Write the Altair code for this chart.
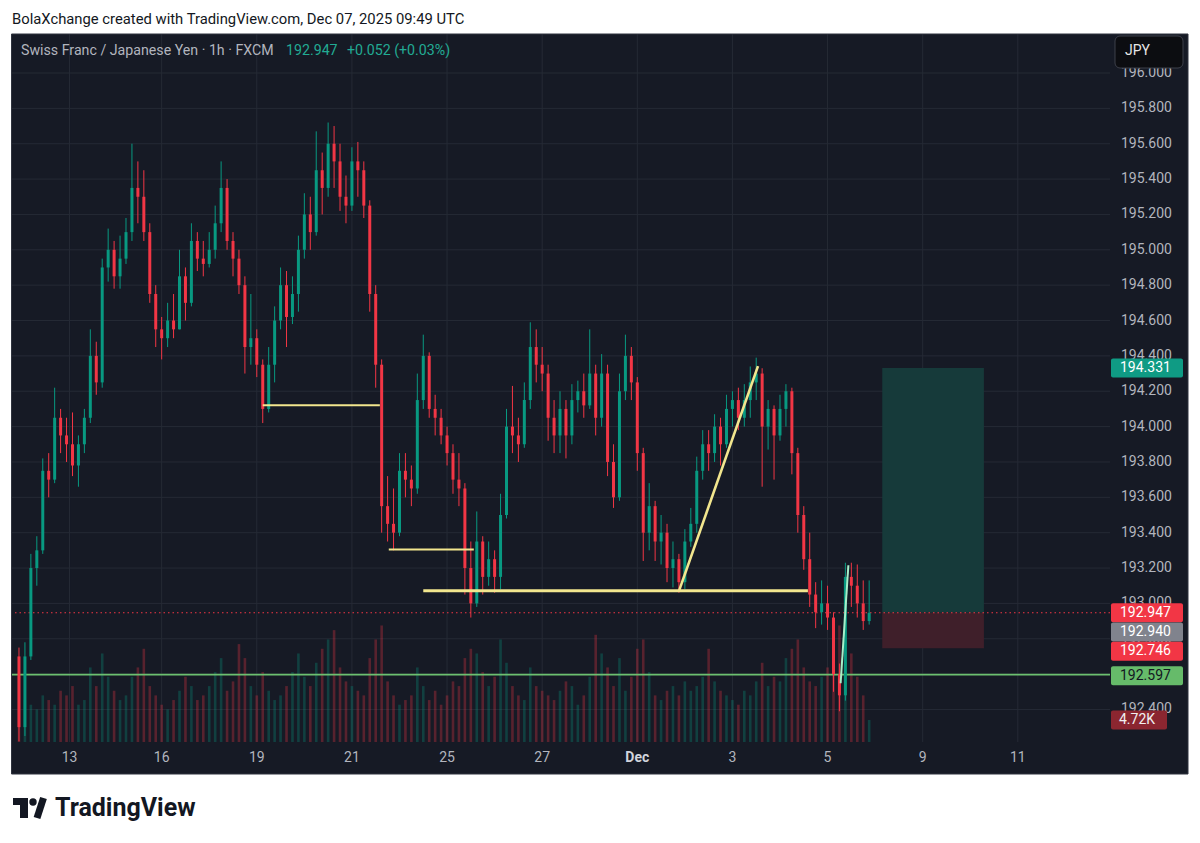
import altair as alt
import pandas as pd

# ---------------- data (3-hour candles) ----------------
first_open = 192.70
closes = [
    192.30, 192.70, 193.20, 193.30, 193.75, 193.70,
    194.05, 193.95, 193.90, 193.78, 193.90, 194.05,
    194.40, 194.25, 194.90, 195.00, 194.85, 194.95,
    195.10, 195.35, 195.30, 195.10, 194.75, 194.55,
    194.50, 194.60, 194.55, 194.85, 194.70, 195.05,
    194.95, 194.92, 195.00, 195.15, 195.35, 195.05,
    194.95, 194.80, 194.45, 194.50, 194.35, 194.10,
    194.35, 194.60, 194.80, 194.62, 194.75, 195.00,
    195.20, 195.10, 195.45, 195.35, 195.60, 195.50,
    195.30, 195.25, 195.50, 195.45, 195.25, 194.75,
    194.35, 193.55, 193.45, 193.40, 193.75, 193.70,
    193.65, 194.15, 194.40, 194.10, 194.05, 193.95,
    193.85, 193.70, 193.65, 193.20, 193.00, 193.35,
    193.15, 193.25, 193.15, 193.50, 194.00, 193.95,
    193.90, 194.15, 194.45, 194.35, 194.30, 194.05,
    193.95, 194.10, 193.95, 194.15, 194.20, 194.12,
    194.30, 194.05, 194.30, 193.80, 193.60, 194.20,
    194.40, 194.25, 193.85, 193.40, 193.55, 193.35,
    193.40, 193.20, 193.25, 193.12, 193.35, 193.45,
    193.75, 193.90, 193.85, 194.00, 193.90, 194.10,
    194.15, 194.05, 194.15, 194.25, 194.30, 194.00,
    194.10, 193.95, 194.10, 194.20, 193.85, 193.50,
    193.25, 193.05, 192.95, 193.00, 192.92, 192.60,
    192.48, 193.15, 193.10, 193.00, 192.90, 192.947,
]
highs = [
    192.75, 192.78, 193.28, 193.38, 193.82, 193.85,
    194.22, 194.10, 194.05, 194.08, 193.95, 194.10,
    194.55, 194.48, 194.95, 195.12, 195.05, 195.08,
    195.18, 195.60, 195.50, 195.45, 195.15, 194.80,
    194.62, 194.70, 194.75, 195.00, 194.90, 195.15,
    195.10, 195.05, 195.10, 195.25, 195.50, 195.40,
    195.10, 195.00, 194.85, 194.75, 194.55, 194.38,
    194.45, 194.68, 194.90, 194.88, 194.85, 195.08,
    195.32, 195.30, 195.67, 195.55, 195.72, 195.70,
    195.60, 195.42, 195.58, 195.61, 195.50, 195.28,
    194.80, 194.38, 193.72, 193.65, 193.85, 193.85,
    193.78, 194.30, 194.52, 194.42, 194.18, 194.10,
    194.00, 193.90, 193.85, 193.68, 193.35, 193.52,
    193.38, 193.35, 193.30, 193.62, 194.10, 194.23,
    194.05, 194.25, 194.59, 194.55, 194.45, 194.35,
    194.15, 194.20, 194.15, 194.24, 194.26, 194.30,
    194.55, 194.35, 194.41, 194.35, 193.90, 194.30,
    194.52, 194.45, 194.28, 193.88, 193.68, 193.58,
    193.50, 193.45, 193.35, 193.28, 193.42, 193.54,
    193.83, 193.98, 193.98, 194.07, 194.05, 194.18,
    194.20, 194.22, 194.24, 194.34, 194.39, 194.33,
    194.15, 194.12, 194.18, 194.24, 194.22, 193.88,
    193.55, 193.40, 193.12, 193.13, 193.10, 192.95,
    192.66, 193.23, 193.23, 193.22, 193.13, 193.13,
]
lows = [
    192.22, 192.25, 192.68, 193.10, 193.28, 193.60,
    193.68, 193.85, 193.80, 193.72, 193.66, 193.85,
    194.02, 194.18, 194.22, 194.82, 194.78, 194.78,
    194.92, 195.05, 195.15, 195.05, 194.70, 194.45,
    194.38, 194.45, 194.50, 194.55, 194.60, 194.68,
    194.88, 194.85, 194.90, 194.95, 195.10, 195.00,
    194.85, 194.75, 194.30, 194.35, 194.28, 194.02,
    194.08, 194.25, 194.55, 194.45, 194.58, 194.65,
    194.95, 195.00, 195.08, 195.20, 195.30, 195.35,
    195.22, 195.15, 195.22, 195.30, 195.18, 194.65,
    194.22, 193.40, 193.35, 193.30, 193.38, 193.60,
    193.55, 193.62, 194.10, 194.05, 193.95, 193.90,
    193.78, 193.62, 193.55, 193.05, 192.92, 192.98,
    193.05, 193.10, 193.06, 193.08, 193.48, 193.85,
    193.80, 193.88, 194.10, 194.25, 194.20, 193.92,
    193.85, 193.85, 193.82, 193.90, 194.08, 194.05,
    194.10, 193.95, 194.00, 193.72, 193.54, 193.58,
    194.15, 194.15, 193.75, 193.24, 193.30, 193.24,
    193.22, 193.12, 193.09, 193.06, 193.08, 193.32,
    193.40, 193.70, 193.75, 193.80, 193.78, 193.88,
    194.00, 193.98, 194.00, 194.05, 194.15, 193.66,
    193.87, 193.70, 193.92, 194.00, 193.73, 193.40,
    193.19, 192.98, 192.86, 192.88, 192.85, 192.50,
    192.39, 192.45, 192.98, 192.92, 192.85, 192.88,
]
volumes_k = [
    14, 9, 8, 7, 10, 9,
    8, 11, 10, 12, 8, 9,
    16, 12, 19, 14, 11, 9,
    10, 14, 16, 20, 12, 10,
    8, 7, 9, 11, 14, 12,
    9, 10, 12, 15, 18, 11,
    13, 21, 18, 12, 10, 15,
    11, 9, 10, 12, 15, 19,
    14, 12, 17, 20, 22, 24,
    16, 13, 12, 11, 10, 18,
    22, 25, 13, 10, 8, 9,
    10, 16, 12, 9, 11, 8,
    10, 13, 12, 18, 20, 19,
    15, 12, 14, 22, 17, 12,
    10, 9, 16, 12, 11, 10,
    9, 11, 13, 12, 8, 10,
    14, 23, 19, 16, 12, 18,
    11, 14, 20, 22, 15, 10,
    9, 11, 12, 10, 13, 11,
    12, 14, 20, 13, 11, 10,
    9, 8, 11, 10, 13, 17,
    12, 14, 13, 18, 20, 22,
    16, 13, 12, 14, 16, 21,
    25, 22, 19, 14, 10, 4.72,
]

x_tick_values = [8.5, 24, 40, 56, 72, 88, 120, 136, 152, 168]
x_tick_labels = ["13", "16", "19", "21", "25", "27", "3", "5", "9", "11"]
month_tick_value = 104
month_tick_label = "Dec"
price_ticks = [192.4, 192.6, 192.8, 193.0, 193.2, 193.4, 193.6, 193.8, 194.0,
               194.2, 194.4, 194.6, 194.8, 195.0, 195.2, 195.4, 195.6, 195.8, 196.0]

# drawings
hline_price = [194.121, 193.305]
hline_start = [41.0, 62.2]
hline_end = [60.7, 76.5]
support_price = 193.072
support_start = 68.0
support_end = 132.7
diag_i = [111.0, 124.3]
diag_p = [193.069, 194.342]
mint_i = [138.2, 139.5]
mint_p = [192.548, 193.216]

pos_start, pos_end = 145.2, 162.3
pos_target, pos_entry, pos_stop = 194.331, 192.947, 192.746
last_price = 192.947
green_level = 192.597

label_texts = ["194.331", "192.947", "192.940", "192.746", "192.597"]
label_values = [194.331, 192.947, 192.940, 192.746, 192.597]
last_volume_k = 4.72
last_volume_text = "4.72K"

# ---------------- styles / scale constants ----------------
BG = "#161a25"
GRID = "#252a35"
UP = "#089981"
DOWN = "#f23645"
AXIS_TXT = "#b2b5be"
YELLOW = "#f2e68e"
FONT = "Roboto"

Y_LO, Y_HI = 192.216, 196.2206
PX_PER_UNIT = 708 / (Y_HI - Y_LO)
VOL_PRICE_PER_K = (22 / last_volume_k) / PX_PER_UNIT   # volume pane: 4.72K -> 22 px

opens = [first_open] + closes[:-1]
bars = pd.DataFrame({
    "i": list(range(len(closes))),
    "open": opens, "high": highs, "low": lows, "close": closes, "vol": volumes_k,
})

XS = alt.Scale(domain=[-1 / 3, 182.6667], nice=False, zero=False)
YS = alt.Scale(domain=[Y_LO, Y_HI], nice=False, zero=False)


def X(f):
    return alt.X(f, type="quantitative", scale=XS, axis=None, title=None)


def Y(f):
    return alt.Y(f, type="quantitative", scale=YS, axis=None, title=None)


one = pd.DataFrame({"k": [0]})
up_down = alt.condition("datum.close >= datum.open", alt.value(UP), alt.value(DOWN))

# ---------------- grid + tick labels (drawn through the scales) ----------------
xt_df = pd.DataFrame({"t": x_tick_values, "l": x_tick_labels})
pt_df = pd.DataFrame({"p": price_ticks})
grid_x = alt.Chart(pd.DataFrame({"t": x_tick_values + [month_tick_value]})).mark_rule(
    color=GRID, strokeWidth=1).encode(x=X("t"))
grid_y = alt.Chart(pt_df).mark_rule(color=GRID, strokeWidth=1).encode(y=Y("p"))
date_lbl = alt.Chart(xt_df).mark_text(
    baseline="middle", font=FONT, fontSize=14, color=AXIS_TXT, clip=False).encode(
    x=X("t"), y=alt.value(724), text="l:N")
month_lbl = alt.Chart(pd.DataFrame({"m": [month_tick_value], "t": [month_tick_label]})).mark_text(
    baseline="middle", font=FONT, fontSize=14, fontWeight="bold", color="#d1d4dc", clip=False).encode(
    x=X("m"), y=alt.value(724), text="t:N")
price_lbl = alt.Chart(pt_df).mark_text(
    align="left", baseline="middle", font=FONT, fontSize=14, color=AXIS_TXT, clip=False).encode(
    x=alt.value(1109), y=Y("p"), text=alt.Text("p:Q", format=".3f"))

# ---------------- volume ----------------
vol_bars = alt.Chart(bars).transform_calculate(
    vbase=f"{Y_LO}", vtop=f"{Y_LO} + datum.vol * {VOL_PRICE_PER_K}"
).mark_bar(size=2.6, opacity=0.3).encode(
    x=X("i"), y=Y("vbase:Q"), y2=alt.Y2("vtop:Q"), color=up_down)

vol_df = pd.DataFrame({"v": [last_volume_k], "t": [last_volume_text]})
vol_box = alt.Chart(vol_df).transform_calculate(
    vp=f"{Y_LO} + datum.v * {VOL_PRICE_PER_K}"
).mark_rect(yOffset=-9.5, y2Offset=9.5, color="#8b2630", cornerRadius=2, clip=False).encode(
    x=alt.value(1099), x2=alt.value(1155), y=Y("vp:Q"), y2=alt.Y2("vp:Q"))
vol_txt = alt.Chart(vol_df).transform_calculate(
    vp=f"{Y_LO} + datum.v * {VOL_PRICE_PER_K}"
).mark_text(align="left", baseline="middle", font=FONT, fontSize=14, color="#f0f0f0", clip=False).encode(
    x=alt.value(1107), y=Y("vp:Q"), text="t:N")

# ---------------- price marks ----------------
pos_df = pd.DataFrame({"a": [pos_start], "b": [pos_end], "t": [pos_target],
                       "e": [pos_entry], "s": [pos_stop]})
pos_profit = alt.Chart(pos_df).mark_rect(color="#163a3a").encode(
    x=X("a"), x2=alt.X2("b"), y=Y("e"), y2=alt.Y2("t"))
pos_loss = alt.Chart(pos_df).mark_rect(color="#3f1f2a").encode(
    x=X("a"), x2=alt.X2("b"), y=Y("s"), y2=alt.Y2("e"))

green_rule = alt.Chart(pd.DataFrame({"p": [green_level]})).mark_rule(
    color="#6cc070", strokeWidth=1.6).encode(y=Y("p"))
last_rule = alt.Chart(pd.DataFrame({"p": [last_price]})).mark_rule(
    color=DOWN, strokeWidth=1, strokeDash=[1.5, 3]).encode(y=Y("p"))

wicks = alt.Chart(bars).mark_rule(strokeWidth=1).encode(
    x=X("i"), y=Y("low"), y2=alt.Y2("high"), color=up_down)
bodies = alt.Chart(bars).mark_bar(size=3).encode(
    x=X("i"), y=Y("open"), y2=alt.Y2("close"), color=up_down)

hl_df = pd.DataFrame({"p": hline_price, "a": hline_start, "b": hline_end})
hlines = alt.Chart(hl_df).mark_rule(color=YELLOW, strokeWidth=2).encode(
    x=X("a"), x2=alt.X2("b"), y=Y("p"))
sup = alt.Chart(pd.DataFrame({"p": [support_price], "a": [support_start], "b": [support_end]})).mark_rule(
    color=YELLOW, strokeWidth=3).encode(x=X("a"), x2=alt.X2("b"), y=Y("p"))
diag = alt.Chart(pd.DataFrame({"a": [diag_i[0]], "b": [diag_i[1]], "p": [diag_p[0]], "q": [diag_p[1]]})).mark_rule(
    color=YELLOW, strokeWidth=2.6).encode(x=X("a"), x2=alt.X2("b"), y=Y("p"), y2=alt.Y2("q"))
mint = alt.Chart(pd.DataFrame({"a": [mint_i[0]], "b": [mint_i[1]], "p": [mint_p[0]], "q": [mint_p[1]]})).mark_rule(
    color="#a8efc9", strokeWidth=2).encode(x=X("a"), x2=alt.X2("b"), y=Y("p"), y2=alt.Y2("q"))

lab_df = pd.DataFrame({"p": label_values, "t": label_texts})
label_fill = ["#0f9b84", DOWN, "#80838d", DOWN, "#66bb6a"]
label_ink = ["#ffffff", "#ffffff", "#ffffff", "#ffffff", "#131722"]
label_shift = [0, 0, 18, 3, 1]
label_layers = []
for k in range(len(label_texts)):
    d = lab_df.iloc[[k]]
    s = label_shift[k]
    label_layers.append(alt.Chart(d).mark_rect(
        color=label_fill[k], yOffset=s - 9.5, y2Offset=s + 9.5, cornerRadius=2, clip=False).encode(
        x=alt.value(1099), x2=alt.value(1171), y=Y("p"), y2=alt.Y2("p")))
    label_layers.append(alt.Chart(d).mark_text(
        align="left", baseline="middle", font=FONT, fontSize=14, color=label_ink[k], dy=s, clip=False).encode(
        x=alt.value(1108), y=Y("p"), text="t:N"))

jpy_box = alt.Chart(one).mark_rect(color="#0c0d11", stroke="#3d404a", strokeWidth=1,
                                   cornerRadius=5, clip=False).encode(
    x=alt.value(1103), x2=alt.value(1171), y=alt.value(2), y2=alt.value(34))
jpy_txt = alt.Chart(one).mark_text(text="JPY", align="left", baseline="middle", font=FONT,
                                   fontSize=14, color="#e6e6e6", clip=False).encode(
    x=alt.value(1113), y=alt.value(17))


def white(x0, x1, y0, y1):
    return alt.Chart(one).mark_rect(color="#ffffff", clip=False).encode(
        x=alt.value(x0), x2=alt.value(x1), y=alt.value(y0), y2=alt.value(y1))


frame = alt.Chart(one).mark_rect(fillOpacity=0, stroke="#2f333e", strokeWidth=1, clip=False).encode(
    x=alt.value(-0.5), x2=alt.value(1176), y=alt.value(0), y2=alt.value(740))

hdr = alt.Chart(one).mark_text(
    text="BolaXchange created with TradingView.com, Dec 07, 2025 09:49 UTC",
    align="left", baseline="middle", font=FONT, fontSize=14.8, color="#131722", clip=False).encode(
    x=alt.value(0), y=alt.value(-14))
sym = alt.Chart(one).mark_text(
    text="Swiss Franc / Japanese Yen · 1h · FXCM", align="left", baseline="middle",
    font=FONT, fontSize=14.2, color=AXIS_TXT, clip=False).encode(x=alt.value(9), y=alt.value(17))
px_txt = alt.Chart(one).mark_text(
    text="192.947", align="left", baseline="middle", font=FONT, fontSize=14.2,
    color="#22ab94", clip=False).encode(x=alt.value(274), y=alt.value(17))
chg_txt = alt.Chart(one).mark_text(
    text="+0.052 (+0.03%)", align="left", baseline="middle", font=FONT, fontSize=14.2,
    color="#22ab94", clip=False).encode(x=alt.value(335), y=alt.value(17))

logo_bar = alt.Chart(one).mark_rect(color="#131722", clip=False).encode(
    x=alt.value(1), x2=alt.value(16), y=alt.value(764), y2=alt.value(771))
logo_stem = alt.Chart(one).mark_rect(color="#131722", clip=False).encode(
    x=alt.value(8), x2=alt.value(16), y=alt.value(764), y2=alt.value(784))
logo_dot = alt.Chart(one).mark_circle(color="#131722", opacity=1, clip=False).encode(
    x=alt.value(21), y=alt.value(768), size=alt.value(55))
logo_slash = alt.Chart(one).mark_rule(color="#131722", strokeWidth=7, clip=False).encode(
    x=alt.value(31.5), x2=alt.value(25), y=alt.value(764), y2=alt.value(784))
logo_txt = alt.Chart(one).mark_text(
    text="TradingView", align="left", baseline="middle", font=FONT, fontSize=25,
    fontWeight="bold", color="#131722", clip=False).encode(x=alt.value(43), y=alt.value(774))

chart = alt.layer(
    grid_x, grid_y, date_lbl, month_lbl, price_lbl,
    vol_bars, pos_profit, pos_loss, green_rule, last_rule, wicks, bodies,
    hlines, sup, diag, mint, *label_layers, vol_box, vol_txt, jpy_box, jpy_txt,
    white(-4, 1180, -26, 0), white(-4, 1180, 740, 801), white(-4, -1, 0, 740), white(1176, 1180, 0, 740),
    frame, hdr, sym, px_txt, chg_txt,
    logo_bar, logo_stem, logo_dot, logo_slash, logo_txt,
).properties(
    width=1098, height=708,
    autosize=alt.AutoSizeParams(type="none"),
    padding={"left": 4, "top": 26, "right": 82, "bottom": 93},
    background=BG,
).configure_view(stroke=None)

chart.save("out.html", embed_options={"renderer": "svg", "actions": False})
